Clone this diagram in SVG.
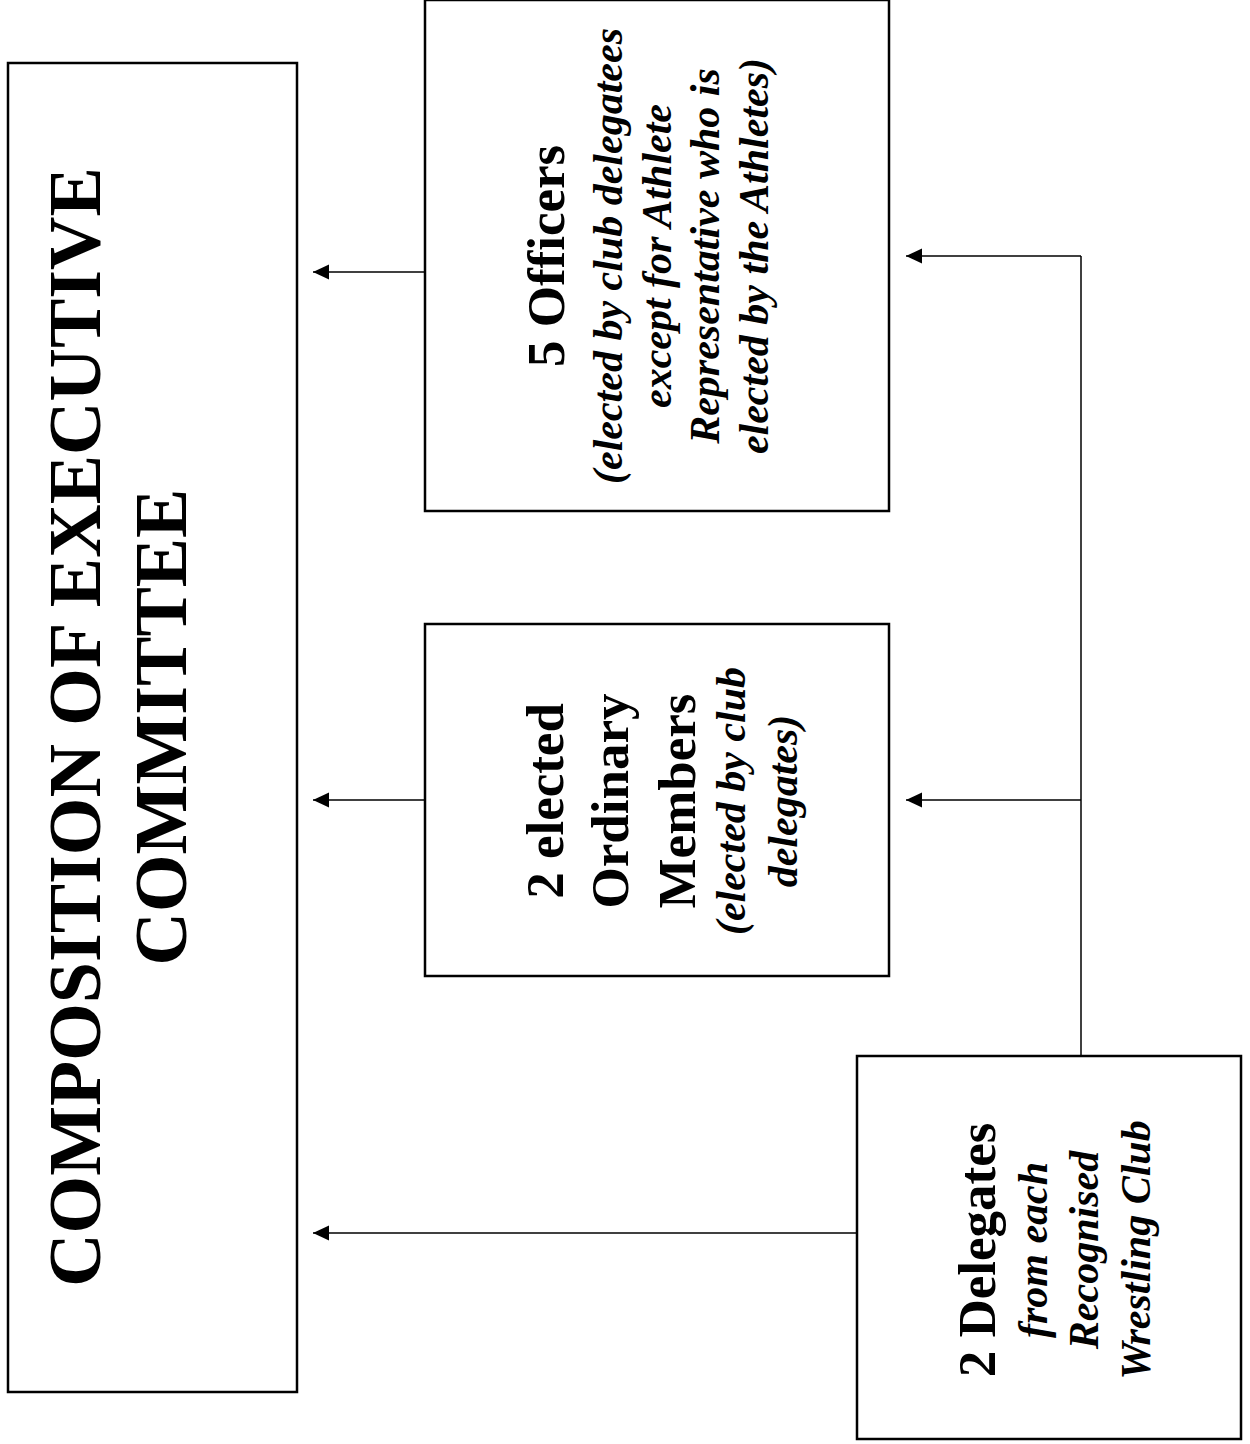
<svg xmlns="http://www.w3.org/2000/svg" width="1250" height="1444" viewBox="0 0 1250 1444">
<style>
.box{fill:#fff;stroke:#000;stroke-width:2.5}
.con{fill:none;stroke:#000;stroke-width:1.5}
.t{font-family:"Liberation Serif","Times New Roman",serif;fill:#000;text-anchor:middle}
.title{font-size:74px;font-weight:bold}
.b{font-size:53px;font-weight:bold}
.i{font-size:42px;font-weight:bold;font-style:italic}
</style>
<defs>
<marker id="ah" markerUnits="userSpaceOnUse" markerWidth="18" markerHeight="16" viewBox="0 -8 16 16" refX="16" refY="0" orient="auto">
<path d="M0,-7.5 L16,0 L0,7.5 z" fill="#000"/>
</marker>
</defs>
<rect width="1250" height="1444" fill="#fff"/>
<g id="main">
<rect class="box" x="8" y="63" width="289" height="1329"/>
<text class="t title" transform="translate(100,727) rotate(-90)">COMPOSITION OF EXECUTIVE</text>
<text class="t title" transform="translate(186,727) rotate(-90)">COMMITTEE</text>
</g>
<g id="officers">
<rect class="box" x="425" y="0" width="464" height="511"/>
<text class="t b" transform="translate(564,256) rotate(-90)">5 Officers</text>
<text class="t i" transform="translate(622,256) rotate(-90)">(elected by club delegatees</text>
<text class="t i" transform="translate(671,256) rotate(-90)">except for Athlete</text>
<text class="t i" transform="translate(719,256) rotate(-90)">Representative who is</text>
<text class="t i" transform="translate(768,256) rotate(-90)">elected by the Athletes)</text>
</g>
<g id="ordinary">
<rect class="box" x="425" y="624" width="464" height="352"/>
<text class="t b" transform="translate(563,801) rotate(-90)">2 elected</text>
<text class="t b" transform="translate(628,801) rotate(-90)">Ordinary</text>
<text class="t b" transform="translate(695,801) rotate(-90)">Members</text>
<text class="t i" transform="translate(745,801) rotate(-90)">(elected by club</text>
<text class="t i" transform="translate(797,801) rotate(-90)">delegates)</text>
</g>
<g id="delegates">
<rect class="box" x="857" y="1056" width="384" height="383"/>
<text class="t b" transform="translate(995,1250) rotate(-90)">2 Delegates</text>
<text class="t i" transform="translate(1047,1250) rotate(-90)">from each</text>
<text class="t i" transform="translate(1098,1250) rotate(-90)">Recognised</text>
<text class="t i" transform="translate(1150,1250) rotate(-90)">Wrestling Club</text>
</g>
<g id="connectors">
<path class="con" d="M425,272 L313,272" marker-end="url(#ah)"/>
<path class="con" d="M425,800 L313,800" marker-end="url(#ah)"/>
<path class="con" d="M857,1233 L313,1233" marker-end="url(#ah)"/>
<path class="con" d="M1081,1056 L1081,256"/>
<path class="con" d="M1081,256 L906,256" marker-end="url(#ah)"/>
<path class="con" d="M1081,800 L906,800" marker-end="url(#ah)"/>
</g>
</svg>
